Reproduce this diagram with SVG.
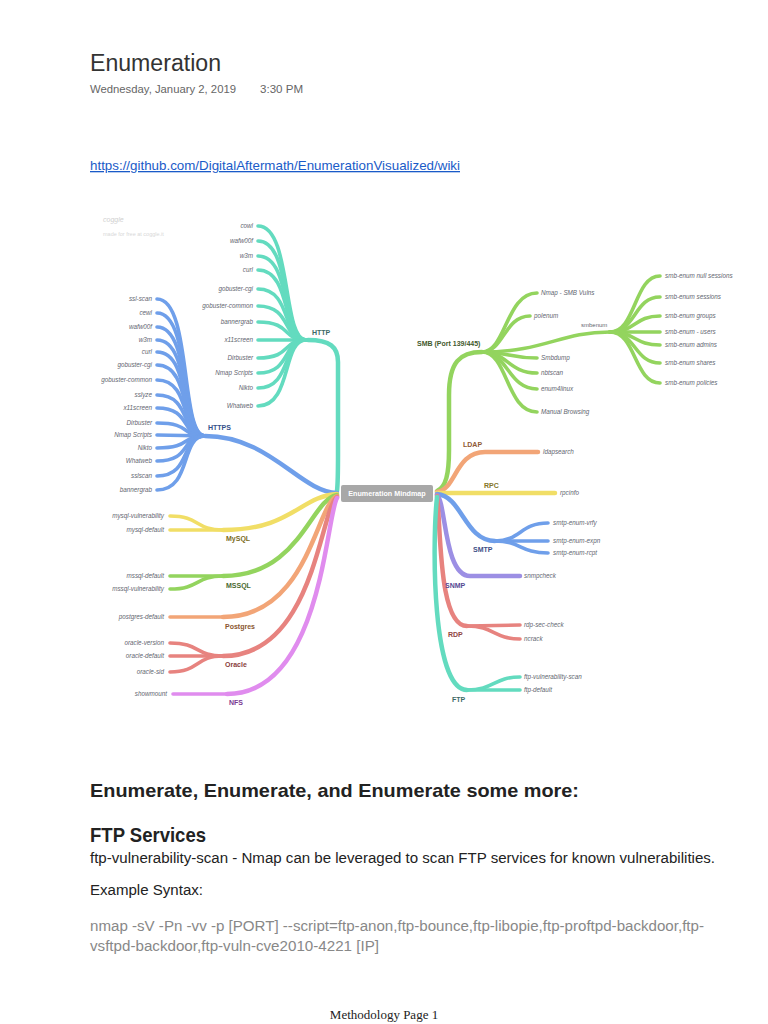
<svg xmlns="http://www.w3.org/2000/svg" width="768" height="1024" viewBox="0 0 768 1024">
<style>
.c{fill:none;stroke-linecap:round;stroke-linejoin:round}
.t{stroke-width:4.5}
.l{stroke-width:3.6}
.leaf{font-family:"Liberation Sans",Arial,sans-serif;font-size:6.3px;font-style:italic;fill:#5f6670}
.lr{text-anchor:end}
.br{font-family:"Liberation Sans",Arial,sans-serif;font-size:7px;font-weight:bold}
.teal{stroke:#63dbbf}.blue{stroke:#6f9fea}.green{stroke:#93d45e}.orange{stroke:#f2a577}.yellow{stroke:#f1de66}.purple{stroke:#9c8fe4}.red{stroke:#e7837f}.pink{stroke:#e08cee}
.doc{font-family:"Liberation Sans",Arial,sans-serif}
</style>
<rect width="768" height="1024" fill="#ffffff"/>
<g id="header">
<text x="90" y="71" class="doc" font-size="23" fill="#333" textLength="131" lengthAdjust="spacingAndGlyphs">Enumeration</text>
<text x="90" y="93" class="doc" font-size="11" fill="#666" textLength="146" lengthAdjust="spacingAndGlyphs">Wednesday, January 2, 2019</text>
<text x="260" y="93" class="doc" font-size="11" fill="#666" textLength="43" lengthAdjust="spacingAndGlyphs">3:30 PM</text>
<text x="90" y="170" class="doc" font-size="13" fill="#1a5bc8" text-decoration="underline" textLength="370" lengthAdjust="spacingAndGlyphs">https://github.com/DigitalAftermath/EnumerationVisualized/wiki</text>
</g>
<g id="watermark">
<text x="103" y="222" font-family="Liberation Sans,Arial,sans-serif" font-size="7" font-style="italic" fill="#d0d0d0">coggle</text>
<text x="103" y="236" font-family="Liberation Sans,Arial,sans-serif" font-size="5.5" fill="#d8d8d8">made for free at coggle.it</text>
</g>
<g id="connectors">
<!-- HTTP -->
<path class="c t teal" d="M337,491 C338,482 338,470 338,455 L338,362 C338,347 330,340 308,340"/>
<g class="c l teal">
<path d="M258,226 C292,226 282,340 306,340"/>
<path d="M258,241 C292,241 282,340 306,340"/>
<path d="M258,256 C292,256 282,340 306,340"/>
<path d="M258,270 C292,270 282,340 306,340"/>
<path d="M258,289 C292,289 282,340 306,340"/>
<path d="M258,306 C292,306 282,340 306,340"/>
<path d="M258,322 C292,322 282,340 306,340"/>
<path d="M258,340 L306,340"/>
<path d="M258,358 C292,358 282,340 306,340"/>
<path d="M258,373 C292,373 282,340 306,340"/>
<path d="M258,388 C292,388 282,340 306,340"/>
<path d="M258,406 C292,406 282,340 306,340"/>
</g>
<!-- HTTPS -->
<path class="c t blue" d="M205,436 C270,436 300,492 337,493"/>
<g class="c l blue">
<path d="M157,299 C192,299 180,436 205,436"/>
<path d="M157,313 C192,313 180,436 205,436"/>
<path d="M157,327 C192,327 180,436 205,436"/>
<path d="M157,340 C192,340 180,436 205,436"/>
<path d="M157,352 C192,352 180,436 205,436"/>
<path d="M157,365 C192,365 180,436 205,436"/>
<path d="M157,380 C192,380 180,436 205,436"/>
<path d="M157,395 C192,395 180,436 205,436"/>
<path d="M157,408 C192,408 180,436 205,436"/>
<path d="M157,423 C192,423 180,436 205,436"/>
<path d="M157,435 C180,435 185,436 205,436"/>
<path d="M157,448 C192,448 180,436 205,436"/>
<path d="M157,461 C192,461 180,436 205,436"/>
<path d="M157,476 C192,476 180,436 205,436"/>
<path d="M157,490 C192,490 180,436 205,436"/>
</g>
<!-- Left bottom -->
<path class="c t yellow" d="M223,530 C292,530 300,496 337,494"/>
<path class="c t green" d="M223,576 C300,576 310,500 337,495"/>
<path class="c t orange" d="M223,617 C308,617 316,505 337,496"/>
<path class="c t red" d="M223,656 C314,656 320,510 337,497"/>
<path class="c t pink" d="M227,694 C322,694 326,515 337,498"/>
<g class="c l yellow">
<path d="M170,516 C200,516 195,530 223,530"/>
<path d="M170,530 L223,530"/>
</g>
<g class="c l green">
<path d="M170,576 L223,576"/>
<path d="M170,589 C200,589 195,576 223,576"/>
</g>
<path class="c l orange" d="M170,617 L223,617"/>
<g class="c l red">
<path d="M170,643 C200,643 195,656 223,656"/>
<path d="M170,656 L223,656"/>
<path d="M170,672 C200,672 195,656 223,656"/>
</g>
<path class="c l pink" d="M173,694 L227,694"/>
<!-- SMB -->
<path class="c t green" d="M437,491 C446,487 449,474 449,450 L449,395 C449,362 460,352 482,352"/>
<g class="c l green">
<path d="M482,352 C506,352 506,293 537,293"/>
<path d="M482,352 C504,352 504,316 530,316"/>
<path d="M482,352 C545,352 560,332 610,332"/>
<path d="M482,352 C508,352 510,358 537,358"/>
<path d="M482,352 C508,352 508,373 537,373"/>
<path d="M482,352 C508,352 508,389 537,389"/>
<path d="M482,352 C508,352 506,412 537,412"/>
<path d="M610,332 C636,332 634,276 660,276"/>
<path d="M610,332 C636,332 634,297 660,297"/>
<path d="M610,332 C636,332 634,316 660,316"/>
<path d="M610,332 L660,332"/>
<path d="M610,332 C636,332 634,345 660,345"/>
<path d="M610,332 C636,332 634,363 660,363"/>
<path d="M610,332 C636,332 634,383 660,383"/>
</g>
<!-- LDAP -->
<path class="c t orange" d="M437,492 C456,490 455,452 485,452 L538,452"/>
<!-- RPC -->
<path class="c t yellow" d="M437,493 L555,493"/>
<!-- SMTP -->
<path class="c t blue" d="M437,494 C462,496 465,541 495,541"/>
<g class="c l blue">
<path d="M495,541 C521,541 520,523 548,523"/>
<path d="M495,541 L548,541"/>
<path d="M495,541 C521,541 520,553 548,553"/>
</g>
<!-- SNMP -->
<path class="c t purple" d="M437,495 C446,502 444,576 470,576 L520,576"/>
<!-- RDP -->
<path class="c t red" d="M437,496 C441,525 438,626 467,626"/>
<g class="c l red">
<path d="M467,626 L520,625"/>
<path d="M467,626 C494,626 494,639 520,639"/>
</g>
<!-- FTP -->
<path class="c t teal" d="M437,497 C432,545 432,690 467,690"/>
<g class="c l teal">
<path d="M467,690 C494,690 494,677 520,677"/>
<path d="M467,690 L520,690"/>
</g>
</g>
<g id="center">
<rect x="341" y="485" width="92" height="17" rx="2" fill="#a8a8a8"/>
<text x="387" y="496" text-anchor="middle" font-family="Liberation Sans,Arial,sans-serif" font-size="7.2" font-weight="bold" fill="#ffffff">Enumeration Mindmap</text>
</g>
<g id="http">
<text class="br" x="312" y="334.5" fill="#3d6a66">HTTP</text>
<text class="leaf lr" x="253" y="228">cowl</text>
<text class="leaf lr" x="253" y="243">wafw00f</text>
<text class="leaf lr" x="253" y="258">w3m</text>
<text class="leaf lr" x="253" y="272">curl</text>
<text class="leaf lr" x="253" y="291">gobuster-cgi</text>
<text class="leaf lr" x="253" y="308">gobuster-common</text>
<text class="leaf lr" x="253" y="324">bannergrab</text>
<text class="leaf lr" x="253" y="342">x11screen</text>
<text class="leaf lr" x="253" y="360">Dirbuster</text>
<text class="leaf lr" x="253" y="375">Nmap Scripts</text>
<text class="leaf lr" x="253" y="390">Nikto</text>
<text class="leaf lr" x="253" y="408">Whatweb</text>
</g>
<g id="https">
<text class="br" x="208" y="430" fill="#34508a">HTTPS</text>
<text class="leaf lr" x="152" y="301">ssl-scan</text>
<text class="leaf lr" x="152" y="315">cewl</text>
<text class="leaf lr" x="152" y="329">wafw00f</text>
<text class="leaf lr" x="152" y="342">w3m</text>
<text class="leaf lr" x="152" y="354">curl</text>
<text class="leaf lr" x="152" y="367">gobuster-cgi</text>
<text class="leaf lr" x="152" y="382">gobuster-common</text>
<text class="leaf lr" x="152" y="397">sslyze</text>
<text class="leaf lr" x="152" y="410">x11screen</text>
<text class="leaf lr" x="152" y="425">Dirbuster</text>
<text class="leaf lr" x="152" y="437">Nmap Scripts</text>
<text class="leaf lr" x="152" y="450">Nikto</text>
<text class="leaf lr" x="152" y="463">Whatweb</text>
<text class="leaf lr" x="152" y="478">sslscan</text>
<text class="leaf lr" x="152" y="492">bannergrab</text>
</g>
<g id="mysql">
<text class="br" x="226" y="541" fill="#7a6c22">MySQL</text>
<text class="leaf lr" x="164" y="518">mysql-vulnerability</text>
<text class="leaf lr" x="164" y="532">mysql-default</text>
</g>
<g id="mssql">
<text class="br" x="226" y="588" fill="#4a6a30">MSSQL</text>
<text class="leaf lr" x="164" y="578">mssql-default</text>
<text class="leaf lr" x="164" y="591">mssql-vulnerability</text>
</g>
<g id="postgres">
<text class="br" x="225" y="629" fill="#8a5530">Postgres</text>
<text class="leaf lr" x="164" y="619">postgres-default</text>
</g>
<g id="oracle">
<text class="br" x="225" y="667" fill="#8a3e3c">Oracle</text>
<text class="leaf lr" x="164" y="645">oracle-version</text>
<text class="leaf lr" x="164" y="658">oracle-default</text>
<text class="leaf lr" x="164" y="674">oracle-sid</text>
</g>
<g id="nfs">
<text class="br" x="229" y="705" fill="#7a3a92">NFS</text>
<text class="leaf lr" x="167" y="696">showmount</text>
</g>
<g id="smb">
<text class="br" x="417" y="346" fill="#3f5a2c">SMB (Port 139/445)</text>
<text class="leaf" x="541" y="295">Nmap - SMB Vulns</text>
<text class="leaf" x="534" y="318">polenum</text>
<text class="leaf" x="541" y="360">Smbdump</text>
<text class="leaf" x="541" y="375">nbtscan</text>
<text class="leaf" x="541" y="391">enum4linux</text>
<text class="leaf" x="541" y="414">Manual Browsing</text>
</g>
<g id="smbenum">
<text x="581" y="327" font-family="Liberation Sans,Arial,sans-serif" font-size="6" fill="#5f6670">smbenum</text>
<text class="leaf" x="665" y="278">smb-enum null sessions</text>
<text class="leaf" x="665" y="299">smb-enum sessions</text>
<text class="leaf" x="665" y="318">smb-enum groups</text>
<text class="leaf" x="665" y="334">smb-enum - users</text>
<text class="leaf" x="665" y="347">smb-enum admins</text>
<text class="leaf" x="665" y="365">smb-enum shares</text>
<text class="leaf" x="665" y="385">smb-enum policies</text>
</g>
<g id="ldap">
<text class="br" x="463" y="447" fill="#8f5a36">LDAP</text>
<text class="leaf" x="543" y="454">ldapsearch</text>
</g>
<g id="rpc">
<text class="br" x="484" y="488" fill="#84762a">RPC</text>
<text class="leaf" x="560" y="495">rpcinfo</text>
</g>
<g id="smtp">
<text class="br" x="473" y="552" fill="#3c4f86">SMTP</text>
<text class="leaf" x="553" y="525">smtp-enum-vrfy</text>
<text class="leaf" x="553" y="543">smtp-enum-expn</text>
<text class="leaf" x="553" y="555">smtp-enum-rcpt</text>
</g>
<g id="snmp">
<text class="br" x="445" y="588" fill="#564a92">SNMP</text>
<text class="leaf" x="524" y="578">snmpcheck</text>
</g>
<g id="rdp">
<text class="br" x="448" y="637" fill="#8f4644">RDP</text>
<text class="leaf" x="524" y="627">rdp-sec-check</text>
<text class="leaf" x="524" y="641">ncrack</text>
</g>
<g id="ftp">
<text class="br" x="452" y="702" fill="#3d6a66">FTP</text>
<text class="leaf" x="524" y="679">ftp-vulnerability-scan</text>
<text class="leaf" x="524" y="692">ftp-default</text>
</g>
<g id="body">
<text x="90" y="797" class="doc" font-size="19" font-weight="bold" fill="#222" textLength="489" lengthAdjust="spacingAndGlyphs">Enumerate, Enumerate, and Enumerate some more:</text>
<text x="90" y="842" class="doc" font-size="21" font-weight="bold" fill="#222" textLength="116" lengthAdjust="spacingAndGlyphs">FTP Services</text>
<text x="90" y="863" class="doc" font-size="14" fill="#222" textLength="625" lengthAdjust="spacingAndGlyphs">ftp-vulnerability-scan - Nmap can be leveraged to scan FTP services for known vulnerabilities.</text>
<text x="90" y="895" class="doc" font-size="14" fill="#222" textLength="113" lengthAdjust="spacingAndGlyphs">Example Syntax:</text>
<text x="90" y="931" class="doc" font-size="14" fill="#888" textLength="614" lengthAdjust="spacingAndGlyphs">nmap -sV -Pn -vv -p [PORT] --script=ftp-anon,ftp-bounce,ftp-libopie,ftp-proftpd-backdoor,ftp-</text>
<text x="90" y="951" class="doc" font-size="14" fill="#888" textLength="289" lengthAdjust="spacingAndGlyphs">vsftpd-backdoor,ftp-vuln-cve2010-4221 [IP]</text>
<text x="384" y="1019" text-anchor="middle" font-family="Liberation Serif,Times New Roman,serif" font-size="13" fill="#222">Methodology Page 1</text>
</g>
</svg>
